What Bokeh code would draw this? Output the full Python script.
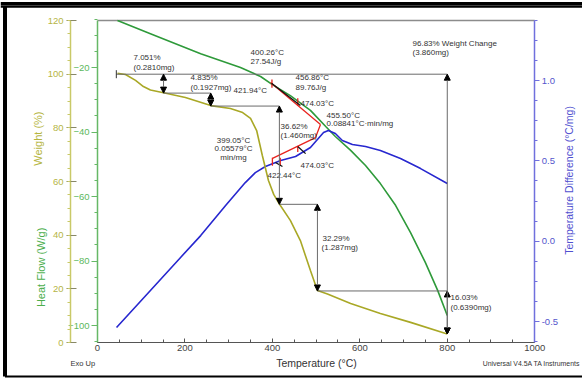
from math import pi
from bokeh.plotting import figure
from bokeh.models import (Range1d, LinearAxis, Label, Arrow, NormalHead,
                          ColumnDataSource, FixedTicker, PrintfTickFormatter)
from bokeh.core.properties import value
from bokeh.embed import file_html
from bokeh.resources import INLINE

FONT = "Liberation Sans"

# ---------------- data ----------------
# Weight (%) vs temperature (°C)
weight_temp = [45.7, 64, 87, 105, 121, 151, 201, 259, 304, 332, 350, 364,
               377, 391, 403, 416, 441, 464, 487, 503, 526, 579, 647, 716, 800]
weight_pct = [100.3, 99.9, 97.7, 95.4, 94.1, 93.1, 91.3, 88.3, 87.2, 85.7,
              83.5, 79.0, 69.7, 60.4, 55.2, 51.6, 45.5, 38.0, 26.8, 19.4,
              18.1, 14.5, 10.8, 7.5, 3.2]

# Heat flow (W/g) vs temperature
heat_temp = [45.7, 121, 236, 327, 373, 400, 441, 487, 522, 544, 579, 613,
             647, 682, 716, 750, 778, 800]
heat_flow = [-5.4, -9.5, -15.7, -20.0, -22.8, -25.3, -28.7, -33.3, -38.3,
             -41.4, -45.7, -50.4, -56.0, -62.8, -71.2, -80.5, -89.1, -96.9]

# Temperature difference (°C/mg) vs temperature
dtemp_temp = [43.5, 121, 190, 236, 293, 338, 361, 384, 419, 453, 487, 505,
              517, 528, 544, 560, 583, 613, 647, 693, 739, 800]
dtemp_val = [-0.537, -0.307, -0.101, 0.035, 0.222, 0.365, 0.427, 0.465,
             0.502, 0.527, 0.583, 0.639, 0.676, 0.689, 0.670, 0.627, 0.602,
             0.589, 0.564, 0.515, 0.452, 0.359]

# Weight-step analysis (temperatures and weight levels)
step_temps = [151, 259, 416, 503, 800]
step_levels = [100.0, 92.95, 88.12, 51.50, 19.21, 3.18]
start_temp = 43.0
total_low = 3.17

# DSC / DTA analysis lines
hf_tangent_x = [395.7, 510.0]
hf_tangent_y = [-24.65, -37.67]
dt_tangent_x = [400.3, 498.6, 510.0]
dt_tangent_y = [0.515, 0.645, 0.726]
hf_tick_x = [399.0, 458.0]
hf_tick_y0 = [-23.7, -29.5]
hf_tick_y1 = [-26.3, -31.9]
dt_tick_x = [400.0, 418.0, 458.0]
dt_tick_y0 = [0.52, 0.52, 0.59]
dt_tick_y1 = [0.47, 0.47, 0.555]
hf_mark_x = [398.0, 464.0]
hf_mark_y = [-24.9, -31.8]
dt_mark_x0 = [458.0, 407.0]
dt_mark_y0 = [0.59, 0.490]
dt_mark_x1 = [476.0, 423.0]
dt_mark_y1 = [0.545, 0.465]

# Annotation texts (x in °C, y in weight %)
ann_text = ["7.051%", "(0.2810mg)", "4.835%", "(0.1927mg)", "421.94°C",
            "400.26°C", "27.54J/g", "456.86°C", "89.76J/g", "474.03°C",
            "455.50°C", "0.08841°C·min/mg", "36.62%", "(1.460mg)",
            "399.05°C", "0.05579°C", "min/mg", "474.03°C", "422.44°C",
            "32.29%", "(1.287mg)", "96.83% Weight Change", "(3.860mg)",
            "16.03%", "(0.6390mg)"]
ann_x = [82.3, 82.3, 212.7, 212.7, 311.0, 350.0, 350.0, 452.9, 452.9, 464.3,
         523.8, 523.8, 418.6, 418.6, 311.0, 311.0, 311.0, 464.3, 388.8,
         514.6, 512.4, 720.5, 720.5, 807.4, 807.4]
ann_y = [106.2, 102.5, 98.8, 95.0, 93.9, 108.1, 104.7, 98.8, 95.0, 89.1,
         84.6, 81.6, 80.5, 77.2, 75.3, 72.3, 69.0, 66.0, 62.2, 38.8, 35.4,
         111.4, 108.1, 16.8, 13.0]
ann_align = ["left"] * 14 + ["center"] * 3 + ["left"] * 8

x_ticks = [0, 200, 400, 600, 800, 1000]
weight_ticks = [0, 20, 40, 60, 80, 100, 120]
heat_ticks = [-100, -80, -60, -40, -20]
dtemp_ticks = [-0.5, 0.0, 0.5, 1.0]

# ---------------- geometry (ranges of the whole canvas) ----------------
X_VIEW = (-221.9, 1109.3)
HEAT_VIEW = (-116.74, 0.775)
WEIGHT_VIEW = (-13.79, 127.47)
DTEMP_VIEW = (-0.8606, 1.498)
X_LIM = (0, 1000)
HEAT_LIM = (-105.27, -5.43)
WEIGHT_LIM = (0, 120)
DTEMP_LIM = (-0.630, 1.373)
WEIGHT_AXIS_X = -61.8

# ---------------- colours ----------------
C_W = "#a9a826"
C_W_AX = "#c9c968"
C_H = "#2e9a3a"
C_H_AX = "#66b866"
C_T = "#2727cf"
C_T_AX = "#7070dd"
C_TXT = "#333333"

p = figure(width=582, height=379, x_range=Range1d(*X_VIEW),
           y_range=Range1d(*HEAT_VIEW), output_backend="svg",
           toolbar_location=None, min_border=0)
p.extra_y_ranges = {"weight": Range1d(*WEIGHT_VIEW),
                    "dtemp": Range1d(*DTEMP_VIEW)}
p.xgrid.visible = False
p.ygrid.visible = False
p.outline_line_color = None
p.background_fill_color = "white"
p.border_fill_color = "white"

# x axis
xa = p.xaxis[0]
xa.fixed_location = HEAT_LIM[0]
xa.bounds = X_LIM
xa.ticker = FixedTicker(ticks=x_ticks, minor_ticks=list(range(0, 1001, 50)))
xa.axis_line_color = "#555555"
xa.major_tick_line_color = "#555555"
xa.minor_tick_line_color = "#555555"
xa.major_tick_in = 4
xa.major_tick_out = 0
xa.minor_tick_in = 3
xa.minor_tick_out = 0
xa.major_label_standoff = 2
xa.major_label_text_font = FONT
xa.major_label_text_font_size = "9.5px"
xa.major_label_text_color = "#444444"

# heat flow axis (at the frame's left edge)
ha = p.yaxis[0]
ha.fixed_location = X_LIM[0]
ha.bounds = HEAT_LIM
ha.ticker = FixedTicker(ticks=heat_ticks, minor_ticks=list(range(-105, -4, 5)))
ha.axis_line_color = C_H_AX
ha.axis_line_width = 1.5
ha.major_tick_line_color = C_H_AX
ha.minor_tick_line_color = C_H_AX
ha.major_tick_in = 0
ha.major_tick_out = 6
ha.minor_tick_in = 0
ha.minor_tick_out = 3
ha.major_label_standoff = 2
ha.major_label_text_font = FONT
ha.major_label_text_font_size = "9.5px"
ha.major_label_text_color = "#5cb85c"

# weight axis (outer left)
wa = LinearAxis(y_range_name="weight", fixed_location=WEIGHT_AXIS_X,
                bounds=WEIGHT_LIM,
                ticker=FixedTicker(ticks=weight_ticks,
                                   minor_ticks=list(range(0, 121, 5))))
wa.axis_line_color = C_W_AX
wa.axis_line_width = 1.5
wa.major_tick_line_color = "#888866"
wa.minor_tick_line_color = C_W_AX
wa.major_tick_in = 6
wa.major_tick_out = 4
wa.minor_tick_in = 0
wa.minor_tick_out = 3
wa.major_label_standoff = 3
wa.major_label_text_font = FONT
wa.major_label_text_font_size = "9.5px"
wa.major_label_text_color = "#b5b545"
p.add_layout(wa, "left")

# temperature-difference axis (right)
ta = LinearAxis(y_range_name="dtemp", fixed_location=X_LIM[1],
                bounds=DTEMP_LIM,
                ticker=FixedTicker(ticks=dtemp_ticks,
                                   minor_ticks=[-0.625 + 0.125 * i for i in range(17)]),
                formatter=PrintfTickFormatter(format="%.1f"))
ta.axis_line_color = C_T_AX
ta.axis_line_width = 1.5
ta.major_tick_line_color = C_T_AX
ta.minor_tick_line_color = C_T_AX
ta.major_tick_in = 0
ta.major_tick_out = 5
ta.minor_tick_in = 0
ta.minor_tick_out = 3
ta.major_label_standoff = 2
ta.major_label_text_font = FONT
ta.major_label_text_font_size = "9.5px"
ta.major_label_text_color = "#5555cc"
p.add_layout(ta, "right")

# top edge of the plotting area
p.segment([X_LIM[0]], [HEAT_LIM[1]], [X_LIM[1]], [HEAT_LIM[1]],
          color="#8c8c8c", line_width=1.5)

# page border
BORDER_TOP = [-0.16, -1.09]
BORDER_LEFT_X = -211.6
BORDER_BOTTOM = -115.8
p.segment([X_VIEW[0]] * 2, BORDER_TOP, [X_VIEW[1]] * 2, BORDER_TOP,
          color="black", line_width=[3, 2.5])
p.segment([BORDER_LEFT_X], [BORDER_TOP[1]], [BORDER_LEFT_X], [BORDER_BOTTOM],
          color="black", line_width=4)
p.segment([BORDER_LEFT_X], [BORDER_BOTTOM], [X_VIEW[1]], [BORDER_BOTTOM],
          color="black", line_width=2)

# ---------------- curves ----------------
p.line(heat_temp, heat_flow, color=C_H, line_width=1.6)
p.line(dtemp_temp, dtemp_val, color=C_T, line_width=1.6, y_range_name="dtemp")
p.line(weight_temp, weight_pct, color=C_W, line_width=1.6, y_range_name="weight")

# ---------------- weight step analysis ----------------
h_x0 = [start_temp] + step_temps[:-1]
h_x1 = [step_temps[-1]] + step_temps[1:-1] + [step_temps[-1]]
h_y = [step_levels[0]] + step_levels[1:-1]
p.segment(h_x0, h_y, h_x1, h_y, color="#6a6a6a", line_width=1,
          y_range_name="weight")
p.segment([start_temp], [step_levels[0] - 1.5], [start_temp],
          [step_levels[0] + 1.5], color="#333333", line_width=1,
          y_range_name="weight")

arr_src = ColumnDataSource(dict(
    x0=step_temps + [step_temps[-1]],
    y0=step_levels[:-1] + [step_levels[0]],
    x1=step_temps + [step_temps[-1]],
    y1=step_levels[1:] + [total_low]))
p.add_layout(Arrow(start=NormalHead(size=6, fill_color="black", line_color="black"),
                   end=NormalHead(size=6, fill_color="black", line_color="black"),
                   x_start="x0", y_start="y0", x_end="x1", y_end="y1",
                   source=arr_src, line_color="#6a6a6a", line_width=1,
                   y_range_name="weight"))

# ---------------- DSC / DTA analysis ----------------
p.line(hf_tangent_x, hf_tangent_y, color="#e8231e", line_width=1.3)
p.line(dt_tangent_x, dt_tangent_y, color="#e8231e", line_width=1.3,
       y_range_name="dtemp")
p.segment(hf_tick_x, hf_tick_y0, hf_tick_x, hf_tick_y1, color="#e8231e",
          line_width=1.3)
p.segment(dt_tick_x, dt_tick_y0, dt_tick_x, dt_tick_y1, color="#e8231e",
          line_width=1.3, y_range_name="dtemp")
p.line(hf_mark_x, hf_mark_y, color="#111111", line_width=1.3)
p.segment(dt_mark_x0, dt_mark_y0, dt_mark_x1, dt_mark_y1, color="#111111",
          line_width=1.3, y_range_name="dtemp")

# ---------------- annotation texts ----------------
txt_src = ColumnDataSource(dict(x=ann_x, y=ann_y, t=ann_text, a=ann_align))
p.text(x="x", y="y", text="t", text_align="a", source=txt_src,
       text_baseline="middle", text_font=value(FONT),
       text_font_size="8px", text_color=C_TXT, y_range_name="weight")

# ---------------- axis titles and footer ----------------
def lab(txt, x, y, color, size, angle=0.0, align="center"):
    p.add_layout(Label(x=x, y=y, text=txt, angle=angle, text_align=align,
                       text_baseline="middle", text_font=FONT,
                       text_font_size=size, text_color=color,
                       y_range_name="weight"))

lab("Weight (%)", -135, 76.0, "#b5b540", "11px", angle=pi / 2)
lab("Heat Flow (W/g)", -130, 28.0, "#4cae4c", "11px", angle=pi / 2)
lab("Temperature Difference (°C/mg)", 1079, 60.4, "#5050d0", "10.5px",
    angle=pi / 2)
lab("Temperature (°C)", 500.9, -7.8, "#333333", "10.5px")
lab("Exo Up", -61.8, -7.8, "#333333", "7.5px", align="left")
lab("Universal V4.5A TA Instruments", 881, -7.8, "#333333", "6.9px",
    align="left")

open("out.html", "w").write(file_html(p, INLINE))
